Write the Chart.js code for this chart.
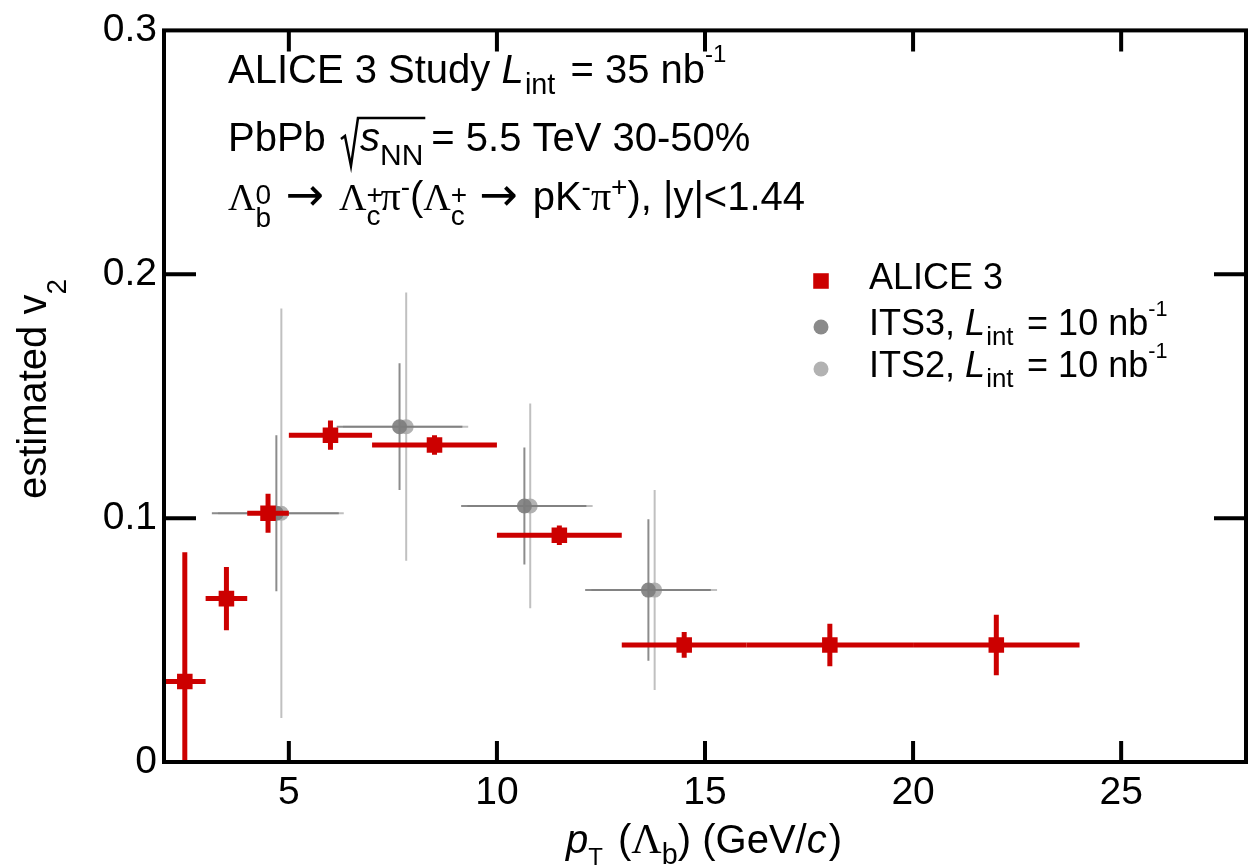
<!DOCTYPE html>
<html>
<head>
<meta charset="utf-8">
<script src="https://cdn.jsdelivr.net/npm/chart.js@4.4.0/dist/chart.umd.min.js"></script>
<style>
  html, body { margin: 0; padding: 0; background: #fff; }
</style>
</head>
<body>
<canvas id="v2Chart" width="1257" height="865"></canvas>
<script>
// ALICE 3 projection (red squares)
const aliceX     = [2.5, 3.5, 4.5, 6, 8.5, 11.5, 14.5, 18, 22];
const aliceV2    = [0.033, 0.067, 0.102, 0.134, 0.130, 0.093, 0.048, 0.048, 0.048];
const aliceXLow  = [2, 3, 4, 5, 7, 10, 13, 16, 20];
const aliceXHigh = [3, 4, 5, 7, 10, 13, 16, 20, 24];
const aliceErr   = [0.053, 0.013, 0.008, 0.006, 0.004, 0.004, 0.0053, 0.0087, 0.0124];

// ITS3, 10 nb^-1 (dark grey)
const its3X     = [4.70, 7.66, 10.66, 13.64];
const its3V2    = [0.102, 0.1375, 0.105, 0.0705];
const its3XLow  = [3.15, 6.15, 9.14, 12.12];
const its3XHigh = [6.20, 9.17, 12.15, 15.14];
const its3Err   = [0.032, 0.026, 0.024, 0.029];

// ITS2, 10 nb^-1 (light grey)
const its2X     = [4.82, 7.82, 10.80, 13.79];
const its2V2    = [0.102, 0.1375, 0.105, 0.0705];
const its2XLow  = [3.30, 6.30, 9.29, 12.27];
const its2XHigh = [6.32, 9.31, 12.30, 15.29];
const its2Err   = [0.084, 0.055, 0.042, 0.041];

const xTicks = [5, 10, 15, 20, 25];
const yTicks = [0, 0.1, 0.2, 0.3];
const yTickLabels = ['0', '0.1', '0.2', '0.3'];

const SANS = '"Liberation Sans", Arial, Helvetica, sans-serif';
const SERIF = '"Liberation Serif", "Times New Roman", serif';
const ARROW = '"DejaVu Sans", sans-serif';

const toPoints = (xs, ys, lo, hi, err) =>
  xs.map((x, i) => ({ x, y: ys[i], xMin: lo[i], xMax: hi[i], yErr: err[i] }));

// text runs with sub/superscripts: {t, it, serif, arrow, s (rel size), dy (rel em), noAdv, gap}
function runFont(r, size) {
  const fam = r.serif ? SERIF : r.arrow ? ARROW : SANS;
  return `${r.it ? 'italic ' : ''}${size * (r.s || 1)}px ${fam}`;
}
function measureRuns(ctx, runs, size) {
  let w = 0;
  for (const r of runs) {
    ctx.font = runFont(r, size);
    if (!r.noAdv) w += ctx.measureText(r.t).width + (r.gap || 0) * size;
  }
  return w;
}
function drawRuns(ctx, x, y, runs, size) {
  const marks = [];
  for (const r of runs) {
    ctx.font = runFont(r, size);
    ctx.fillText(r.t, x, y + (r.dy || 0) * size);
    marks.push(x);
    if (!r.noAdv) x += ctx.measureText(r.t).width + (r.gap || 0) * size;
  }
  marks.push(x);
  return marks;
}

const errorBars = {
  id: 'errorBars',
  beforeDatasetDraw(chart, args) {
    const ds = chart.data.datasets[args.index];
    const { ctx, chartArea: a, scales: { x: xs, y: ys } } = chart;
    ctx.save();
    ctx.beginPath();
    ctx.rect(a.left, a.top, a.right - a.left, a.bottom - a.top);
    ctx.clip();
    ctx.strokeStyle = ds.errColor;
    ctx.lineWidth = ds.errWidth;
    ctx.lineCap = 'butt';
    ds.data.forEach(p => {
      const px = xs.getPixelForValue(p.x), py = ys.getPixelForValue(p.y);
      ctx.beginPath();
      ctx.moveTo(xs.getPixelForValue(p.xMin), py);
      ctx.lineTo(xs.getPixelForValue(p.xMax), py);
      ctx.moveTo(px, ys.getPixelForValue(p.y - p.yErr));
      ctx.lineTo(px, ys.getPixelForValue(p.y + p.yErr));
      ctx.stroke();
    });
    ctx.restore();
  }
};

const LINT = [{ t: 'L', it: 1, gap: 0.03 }, { t: 'int', s: 0.72, dy: 0.28, gap: 0.1 }];
const SUP_M1 = { t: '-1', s: 0.6, dy: -0.52 };

const frameAndText = {
  id: 'frameAndText',
  afterDraw(chart) {
    const { ctx, chartArea: a, scales: { x: xs, y: ys } } = chart;
    ctx.save();
    // frame + inward ticks
    ctx.strokeStyle = '#000';
    ctx.lineWidth = 4;
    ctx.strokeRect(a.left, a.top, a.right - a.left, a.bottom - a.top);
    ctx.beginPath();
    xTicks.forEach(v => {
      const px = xs.getPixelForValue(v);
      ctx.moveTo(px, a.bottom); ctx.lineTo(px, a.bottom - 21);
      ctx.moveTo(px, a.top); ctx.lineTo(px, a.top + 21);
    });
    yTicks.slice(1, -1).forEach(v => {
      const py = ys.getPixelForValue(v);
      ctx.moveTo(a.left, py); ctx.lineTo(a.left + 32, py);
      ctx.moveTo(a.right, py); ctx.lineTo(a.right - 32, py);
    });
    ctx.stroke();

    ctx.fillStyle = '#000';
    ctx.textBaseline = 'alphabetic';
    ctx.textAlign = 'left';

    // header
    const H = 40;
    drawRuns(ctx, 228, 83, [{ t: 'ALICE 3 Study ' }, ...LINT, { t: ' = 35 nb' }, SUP_M1], H);

    const by = 151;
    const pb = drawRuns(ctx, 228, by, [{ t: 'PbPb ' }], H);
    const x0 = pb[1] + 4;
    const m = drawRuns(ctx, x0 + 19, by, [{ t: 's', it: 1 }, { t: 'NN', s: 0.75, dy: 0.35 }], H);
    ctx.lineWidth = 2.5;
    ctx.lineJoin = 'miter';
    ctx.beginPath();
    ctx.moveTo(x0, by - 12); ctx.lineTo(x0 + 4, by - 15);
    ctx.lineTo(x0 + 10, by + 15); ctx.lineTo(x0 + 17, by - 33);
    ctx.lineTo(m[2] + 2, by - 33);
    ctx.stroke();
    drawRuns(ctx, m[2] + 8, by, [{ t: '= 5.5 TeV 30-50%' }], H);

    const LAM = { t: '\u039B', serif: 1, s: 0.95 };
    const SP = { t: '+', s: 0.7, dy: -0.15, noAdv: 1 };
    const SB = { t: 'c', s: 0.7, dy: 0.38 };
    const ARR = { t: ' \u2192 ', arrow: 1, s: 1.15 };
    drawRuns(ctx, 228, 210, [
      LAM, { t: '0', s: 0.7, dy: -0.15, noAdv: 1 }, { t: 'b', s: 0.7, dy: 0.42 },
      ARR,
      LAM, SP, SB,
      { t: '\u03C0', serif: 1, s: 1.0 }, { t: '-', s: 0.7, dy: -0.35 },
      { t: '(' },
      LAM, SP, SB,
      ARR, { t: 'pK' }, { t: '-', s: 0.7, dy: -0.35 },
      { t: '\u03C0', serif: 1, s: 1.0 }, { t: '+', s: 0.7, dy: -0.35 },
      { t: '), |y|<1.44' }
    ], H);

    // legend
    const legend = [
      { ds: 0, y: 289, runs: [{ t: 'ALICE 3' }] },
      { ds: 1, y: 335, runs: [{ t: 'ITS3, ' }, ...LINT, { t: ' = 10 nb' }, SUP_M1] },
      { ds: 2, y: 377, runs: [{ t: 'ITS2, ' }, ...LINT, { t: ' = 10 nb' }, SUP_M1] }
    ];
    legend.forEach(item => {
      const d = chart.data.datasets[item.ds];
      ctx.fillStyle = d.backgroundColor;
      ctx.strokeStyle = d.backgroundColor;
      Chart.helpers.drawPoint(ctx, { pointStyle: d.pointStyle, radius: d.pointRadius, borderWidth: 0 }, 821, item.y - 8);
      ctx.fillStyle = '#000';
      drawRuns(ctx, 869, item.y, item.runs, 36);
    });

    // x title
    const xRuns = [
      { t: 'p', it: 1 }, { t: 'T', s: 0.6, dy: 0.3, gap: 0.1 }, { t: ' (' }, { t: '\u039B', serif: 1, s: 1.05 },
      { t: 'b', s: 0.72, dy: 0.28 }, { t: ') (GeV/' }, { t: 'c', it: 1, gap: 0.05 }, { t: ')' }
    ];
    const xw = measureRuns(ctx, xRuns, 40);
    drawRuns(ctx, 704 - xw / 2, 853, xRuns, 40);

    // y title
    const yRuns = [{ t: 'estimated v' }, { t: '2', s: 0.7, dy: 0.5 }];
    const yw = measureRuns(ctx, yRuns, 40);
    ctx.translate(46, 389);
    ctx.rotate(-Math.PI / 2);
    drawRuns(ctx, -yw / 2, 0, yRuns, 40);
    ctx.restore();
  }
};

new Chart(document.getElementById('v2Chart').getContext('2d'), {
  type: 'scatter',
  data: {
    datasets: [
      {
        label: 'ALICE 3',
        data: toPoints(aliceX, aliceV2, aliceXLow, aliceXHigh, aliceErr),
        pointStyle: 'rect', pointRadius: 11, pointHoverRadius: 11,
        backgroundColor: '#cc0000', borderColor: '#cc0000', borderWidth: 0,
        errColor: '#cc0000', errWidth: 5
      },
      {
        label: 'ITS3',
        data: toPoints(its3X, its3V2, its3XLow, its3XHigh, its3Err),
        pointStyle: 'circle', pointRadius: 7.5, pointHoverRadius: 7.5,
        backgroundColor: 'rgba(125,125,125,0.9)', borderWidth: 0,
        errColor: 'rgba(120,120,120,0.85)', errWidth: 2
      },
      {
        label: 'ITS2',
        data: toPoints(its2X, its2V2, its2XLow, its2XHigh, its2Err),
        pointStyle: 'circle', pointRadius: 7.5, pointHoverRadius: 7.5,
        backgroundColor: 'rgba(170,170,170,0.9)', borderWidth: 0,
        errColor: 'rgba(185,185,185,0.9)', errWidth: 2
      }
    ]
  },
  options: {
    responsive: false,
    animation: false,
    layout: { padding: { top: 22, right: 7, left: 0, bottom: 0 } },
    plugins: { legend: { display: false }, tooltip: { enabled: false } },
    scales: {
      x: {
        type: 'linear', min: 2, max: 28,
        afterBuildTicks: s => { s.ticks = xTicks.map(v => ({ value: v })); },
        afterFit: s => { s.height = 103; },
        grid: { display: false, drawTicks: false },
        border: { display: false },
        ticks: { color: '#000', font: { family: SANS, size: 39 }, padding: 8, maxRotation: 0, callback: v => String(v) }
      },
      y: {
        type: 'linear', min: 0, max: 0.3,
        afterBuildTicks: s => { s.ticks = yTicks.map(v => ({ value: v })); },
        afterFit: s => { s.width = 164; },
        grid: { display: false, drawTicks: false },
        border: { display: false },
        ticks: { color: '#000', font: { family: SANS, size: 39 }, padding: 7,
          callback: (v, i) => yTickLabels[i] }
      }
    }
  },
  plugins: [errorBars, frameAndText]
});
</script>
</body>
</html>
